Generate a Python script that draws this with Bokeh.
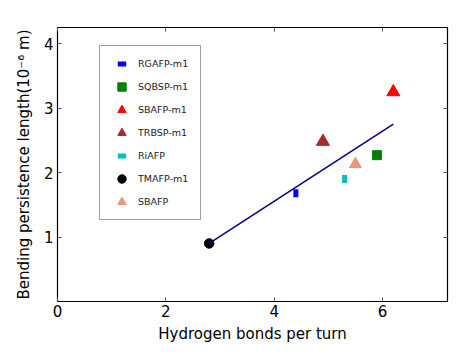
import math
from bokeh.plotting import figure
from bokeh.models import LinearAxis, FixedTicker, Legend
from bokeh.embed import file_html
from bokeh.resources import INLINE

# ---- data ----
proteins = ["RGAFP-m1", "SQBSP-m1", "SBAFP-m1", "TRBSP-m1", "RiAFP", "TMAFP-m1", "SBAFP"]
hbonds_per_turn = [4.4, 5.9, 6.2, 4.9, 5.3, 2.8, 5.5]
persistence_length = [1.68, 2.27, 3.25, 2.48, 1.90, 0.90, 2.13]
fit_x = [2.8, 6.2]
fit_y = [0.90, 2.75]
x_ticks = [0, 2, 4, 6]
y_ticks = [1, 2, 3, 4]

# ---- styles ----
styles = {
    "RGAFP-m1": dict(marker="dash", size=8, angle=math.pi / 2, line_width=5, color="#0000ff"),
    "SQBSP-m1": dict(marker="square", size=9, color="#008000"),
    "SBAFP-m1": dict(marker="triangle", size=13, color="#ff0000"),
    "TRBSP-m1": dict(marker="triangle", size=13, color="#a52a2a"),
    "RiAFP": dict(marker="dash", size=8, angle=math.pi / 2, line_width=5, color="#00bfbf"),
    "TMAFP-m1": dict(marker="circle", size=9.5, color="#000000"),
    "SBAFP": dict(marker="triangle", size=12, color="#e9967a"),
}

FONT = "DejaVu Sans"

p = figure(width=464, height=355, x_range=(0, 7.2), y_range=(0, 4.25),
           output_backend="svg", toolbar_location=None,
           min_border_left=57, min_border_right=17, min_border_top=27, min_border_bottom=54)
p.background_fill_color = "white"
p.border_fill_color = "white"
p.grid.visible = False
p.outline_line_color = "black"
p.outline_line_width = 1.2

items = []
for name, xv, yv in zip(proteins, hbonds_per_turn, persistence_length):
    st = dict(styles[name])
    r = p.scatter([xv], [yv], line_cap="butt", **st)
    items.append((name, [r]))

p.line(fit_x, fit_y, line_color="#000080", line_width=1.5)

# axes
def style_axis(ax, labels=True):
    ax.axis_line_color = None
    ax.major_tick_in = 4
    ax.major_tick_out = 0
    ax.minor_tick_line_color = None
    ax.major_tick_line_color = "#555555"
    ax.major_tick_line_width = 1
    if labels:
        ax.major_label_text_font = FONT
        ax.major_label_text_font_size = "15px"
        ax.major_label_text_color = "black"
        ax.axis_label_text_font = FONT
        ax.axis_label_text_font_size = "15px"
        ax.axis_label_text_font_style = "normal"
        ax.axis_label_text_color = "black"
    else:
        ax.major_label_text_font_size = "1px"
        ax.major_label_text_color = None
        ax.major_label_standoff = 0

xa = p.xaxis[0]
ya = p.yaxis[0]
xa.ticker = FixedTicker(ticks=x_ticks)
ya.ticker = FixedTicker(ticks=y_ticks)
style_axis(xa)
style_axis(ya)
xa.axis_label = "Hydrogen bonds per turn"
ya.axis_label = "Bending persistence length(10\u207b\u2076 m)"
xa.major_label_standoff = 3
ya.major_label_standoff = 4
xa.axis_label_standoff = 5
ya.axis_label_standoff = 8

top = LinearAxis(ticker=FixedTicker(ticks=x_ticks))
right = LinearAxis(ticker=FixedTicker(ticks=y_ticks))
style_axis(top, labels=False)
style_axis(right, labels=False)
p.add_layout(top, "above")
p.add_layout(right, "right")

legend = Legend(items=items, location=(42, 81))
legend.label_text_font = FONT
legend.label_text_font_size = "9.5px"
legend.label_text_color = "#222222"
legend.glyph_width = 29
legend.glyph_height = 21
legend.label_height = 21
legend.label_width = 55
legend.label_standoff = 2
legend.spacing = 2
legend.padding = 7
legend.margin = 0
legend.border_line_color = "#444444"
legend.border_line_width = 1
legend.background_fill_color = "white"
legend.background_fill_alpha = 1.0
p.add_layout(legend, "center")

open("out.html", "w").write(file_html(p, INLINE))
